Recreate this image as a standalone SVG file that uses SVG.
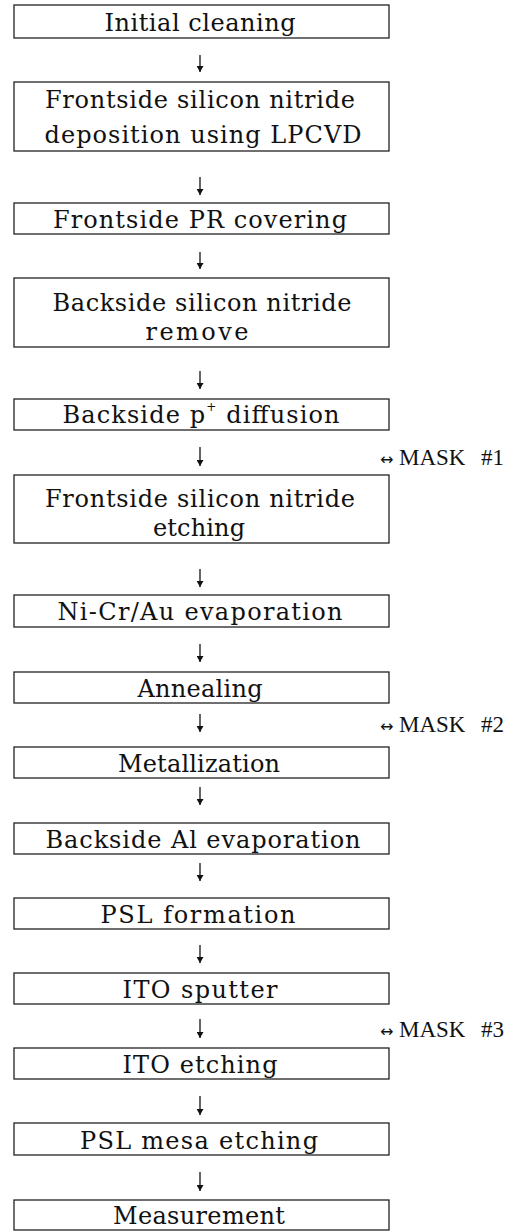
<svg xmlns="http://www.w3.org/2000/svg" width="527" height="1231" viewBox="0 0 527 1231">
<style>
.box{fill:#fff;stroke:#222;stroke-width:1.3}
.t{font-family:"DejaVu Serif","Liberation Serif",serif;font-size:24px;fill:#111;text-anchor:middle}
.m{font-family:"Liberation Serif","DejaVu Serif",serif;font-size:23px;fill:#111}
.a{font-family:"DejaVu Sans",sans-serif;font-size:16px;fill:#111}
.c{stroke:#111;stroke-width:1.3;fill:none;marker-end:url(#ah)}
</style>
<defs>
<marker id="ah" viewBox="0 0 6 7" refX="6" refY="3.5" markerWidth="6" markerHeight="7" markerUnits="userSpaceOnUse" orient="auto">
<path d="M0,0 L6,3.5 L0,7 Z" fill="#111"/>
</marker>
</defs>
<rect width="527" height="1231" fill="#fff"/>
<g id="connectors">
<line class="c" x1="200" y1="55" x2="200" y2="72"/>
<line class="c" x1="200" y1="177" x2="200" y2="195"/>
<line class="c" x1="200" y1="252" x2="200" y2="269"/>
<line class="c" x1="200" y1="371" x2="200" y2="389"/>
<line class="c" x1="200" y1="447" x2="200" y2="466"/>
<line class="c" x1="200" y1="569" x2="200" y2="587"/>
<line class="c" x1="200" y1="644" x2="200" y2="662"/>
<line class="c" x1="200" y1="714" x2="200" y2="732"/>
<line class="c" x1="200" y1="787" x2="200" y2="805"/>
<line class="c" x1="200" y1="863" x2="200" y2="881"/>
<line class="c" x1="200" y1="945" x2="200" y2="963"/>
<line class="c" x1="200" y1="1019" x2="200" y2="1038"/>
<line class="c" x1="200" y1="1096" x2="200" y2="1115"/>
<line class="c" x1="200" y1="1172" x2="200" y2="1191"/>
</g>
<g id="n1"><rect class="box" x="14" y="5" width="375" height="33"/><text class="t" x="200" y="31" textLength="191" lengthAdjust="spacing">Initial cleaning</text></g>
<g id="n2"><rect class="box" x="14" y="82" width="375" height="69"/><text class="t" x="200" y="108" textLength="310" lengthAdjust="spacing">Frontside silicon nitride</text><text class="t" x="203" y="143" textLength="317" lengthAdjust="spacing">deposition using LPCVD</text></g>
<g id="n3"><rect class="box" x="14" y="203" width="375" height="31"/><text class="t" x="200" y="228" textLength="294" lengthAdjust="spacing">Frontside PR covering</text></g>
<g id="n4"><rect class="box" x="14" y="278" width="375" height="69"/><text class="t" x="202" y="311" textLength="299" lengthAdjust="spacing">Backside silicon nitride</text><text class="t" x="197" y="340" textLength="103" lengthAdjust="spacing">remove</text></g>
<g id="n5"><rect class="box" x="14" y="399" width="375" height="31"/><text class="t" x="201" y="423" textLength="277" lengthAdjust="spacing">Backside p<tspan font-size="12" dy="-12">+</tspan><tspan dy="12"> diffusion</tspan></text></g>
<g id="mask1"><text class="m" x="380" y="465"><tspan class="a">↔</tspan><tspan x="399">MASK</tspan><tspan x="481">#1</tspan></text></g>
<g id="n6"><rect class="box" x="14" y="475" width="375" height="68"/><text class="t" x="200" y="507" textLength="310" lengthAdjust="spacing">Frontside silicon nitride</text><text class="t" x="199" y="536" textLength="92" lengthAdjust="spacing">etching</text></g>
<g id="n7"><rect class="box" x="14" y="595" width="375" height="32"/><text class="t" x="200" y="620" textLength="285" lengthAdjust="spacing">Ni-Cr/Au evaporation</text></g>
<g id="n8"><rect class="box" x="14" y="672" width="375" height="31"/><text class="t" x="200" y="697" textLength="125" lengthAdjust="spacing">Annealing</text></g>
<g id="mask2"><text class="m" x="380" y="732"><tspan class="a">↔</tspan><tspan x="399">MASK</tspan><tspan x="481">#2</tspan></text></g>
<g id="n9"><rect class="box" x="14" y="747" width="375" height="31"/><text class="t" x="199" y="772" textLength="162" lengthAdjust="spacing">Metallization</text></g>
<g id="n10"><rect class="box" x="14" y="823" width="375" height="31"/><text class="t" x="203" y="848" textLength="315" lengthAdjust="spacing">Backside Al evaporation</text></g>
<g id="n11"><rect class="box" x="14" y="898" width="375" height="31"/><text class="t" x="198" y="923" textLength="195" lengthAdjust="spacing">PSL formation</text></g>
<g id="n12"><rect class="box" x="14" y="973" width="375" height="31"/><text class="t" x="200" y="998" textLength="155" lengthAdjust="spacing">ITO sputter</text></g>
<g id="mask3"><text class="m" x="380" y="1037"><tspan class="a">↔</tspan><tspan x="399">MASK</tspan><tspan x="481">#3</tspan></text></g>
<g id="n13"><rect class="box" x="14" y="1048" width="375" height="31"/><text class="t" x="200" y="1073" textLength="155" lengthAdjust="spacing">ITO etching</text></g>
<g id="n14"><rect class="box" x="14" y="1123" width="375" height="32"/><text class="t" x="199" y="1149" textLength="238" lengthAdjust="spacing">PSL mesa etching</text></g>
<g id="n15"><rect class="box" x="14" y="1200" width="375" height="30"/><text class="t" x="199" y="1224" textLength="172" lengthAdjust="spacing">Measurement</text></g>
</svg>
